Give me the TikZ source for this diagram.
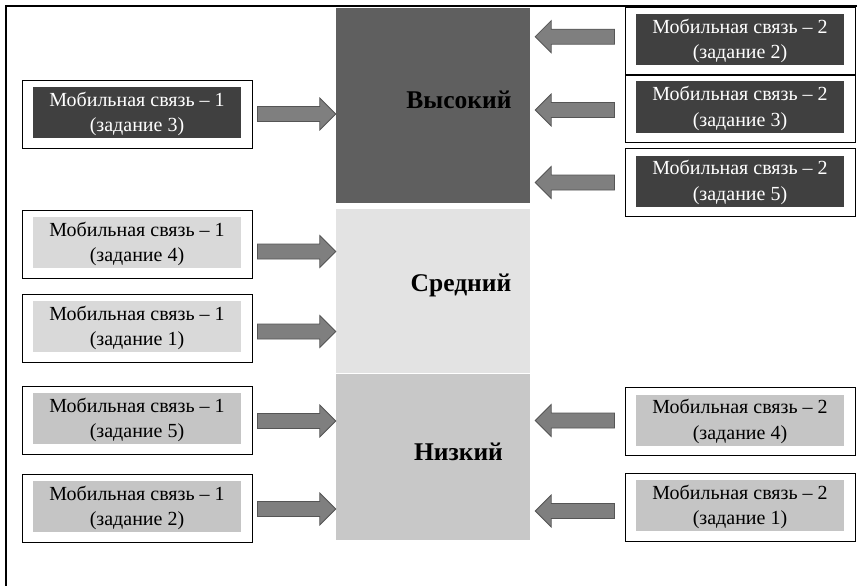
\documentclass[tikz,border=0pt]{standalone}
\usepackage{fontspec}
\setmainfont{Liberation Serif}
\usetikzlibrary{positioning,calc}
\definecolor{hifill}{RGB}{95,95,95}
\definecolor{hibox}{RGB}{64,64,64}
\definecolor{midfill}{RGB}{227,227,227}
\definecolor{midbox}{RGB}{217,217,217}
\definecolor{lowfill}{RGB}{200,200,200}
\definecolor{lowbox}{RGB}{197,197,197}
\definecolor{arrfill}{RGB}{127,127,127}
\definecolor{arrline}{RGB}{85,85,85}
\tikzstyle{level}=[rectangle, inner sep=0pt, minimum width=194pt]
\tikzstyle{levelname}=[anchor=base, font=\fontsize{25.5}{30}\selectfont\bfseries]
\tikzstyle{task}=[rectangle, draw, line width=0.9pt, inner sep=0pt, minimum width=230pt, minimum height=68pt, align=center, font=\fontsize{20}{25.5}\selectfont, path picture={\fill[#1] ($(path picture bounding box.south west)+(11pt,10pt)$) rectangle ($(path picture bounding box.north east)+(-11pt,-7pt)$);}]
\tikzstyle{blockarrow}=[fill=arrfill, draw=arrline, line width=0.8pt, line join=miter]
% block arrow from a task box to the level box
\newcommand{\toright}[3][0]{%
  \draw[blockarrow] let \p1=($(#2.east)+(5,#1)$), \p2=(#3.west) in
  (\x1,\y1+7.5) -- (\x2-16,\y1+7.5) -- (\x2-16,\y1+16) -- (\x2,\y1)
  -- (\x2-16,\y1-16) -- (\x2-16,\y1-7.5) -- (\x1,\y1-7.5) -- cycle;}
\newcommand{\toleft}[3][0]{%
  \draw[blockarrow] let \p1=($(#2.west)+(-10,#1)$), \p2=($(#3.east)+(5,0)$) in
  (\x1,\y1+7.5) -- (\x2+16,\y1+7.5) -- (\x2+16,\y1+16) -- (\x2,\y1)
  -- (\x2+16,\y1-16) -- (\x2+16,\y1-7.5) -- (\x1,\y1-7.5) -- cycle;}

\begin{document}
\begin{tikzpicture}[x=1pt, y=-1pt, on grid]
	\useasboundingbox (0,0) rectangle (857,586);
	\draw[line width=1.3pt] (6,586) -- (6,6) -- (857,6);
	% levels
	\node[level, fill=hifill, minimum height=195pt] (h) at (433,105.5) {};
	\node[level, fill=midfill, minimum height=164pt] (m) at (433,291) {};
	\node[level, fill=lowfill, minimum height=166pt] (l) at (433,457) {};
	\node[levelname] (hname) at ($(h.center)+(26,2.5)$) {Высокий};
	\node[levelname] (mname) at ($(m.center)+(28,0)$) {Средний};
	\node[levelname] (lname) at ($(l.center)+(25.5,3)$) {Низкий};
	% first column
	\node[task=hibox, text=white] (a1) at (137,114) {Мобильная связь – 1\\(задание 3)};
	\node[task=midbox, below=130pt of a1] (a2) {Мобильная связь – 1\\(задание 4)};
	\node[task=midbox, below=84pt of a2] (a3) {Мобильная связь – 1\\(задание 1)};
	\node[task=lowbox, below=92pt of a3] (a4) {Мобильная связь – 1\\(задание 5)};
	\node[task=lowbox, below=88pt of a4] (a5) {Мобильная связь – 1\\(задание 2)};
	% second column
	\node[task=hibox, text=white] (b1) at (740,41) {Мобильная связь – 2\\(задание 2)};
	\node[task=hibox, text=white, below=67.5pt of b1] (b2) {Мобильная связь – 2\\(задание 3)};
	\node[task=hibox, text=white, below=74pt of b2] (b3) {Мобильная связь – 2\\(задание 5)};
	\node[task=lowbox] (b4) at (740,421.5) {Мобильная связь – 2\\(задание 4)};
	\node[task=lowbox, below=85.5pt of b4] (b5) {Мобильная связь – 2\\(задание 1)};
	% arrows
	\toright{a1}{h}
	\toright[7.5]{a2}{m}
	\toright[3.5]{a3}{m}
	\toright[1]{a4}{l}
	\toright[1]{a5}{l}
	\toleft[-4.3]{b1}{h}
	\toleft[1.5]{b2}{h}
	\toleft{b3}{h}
	\toleft[-1]{b4}{l}
	\toleft[4]{b5}{l}
\end{tikzpicture}
\end{document}
